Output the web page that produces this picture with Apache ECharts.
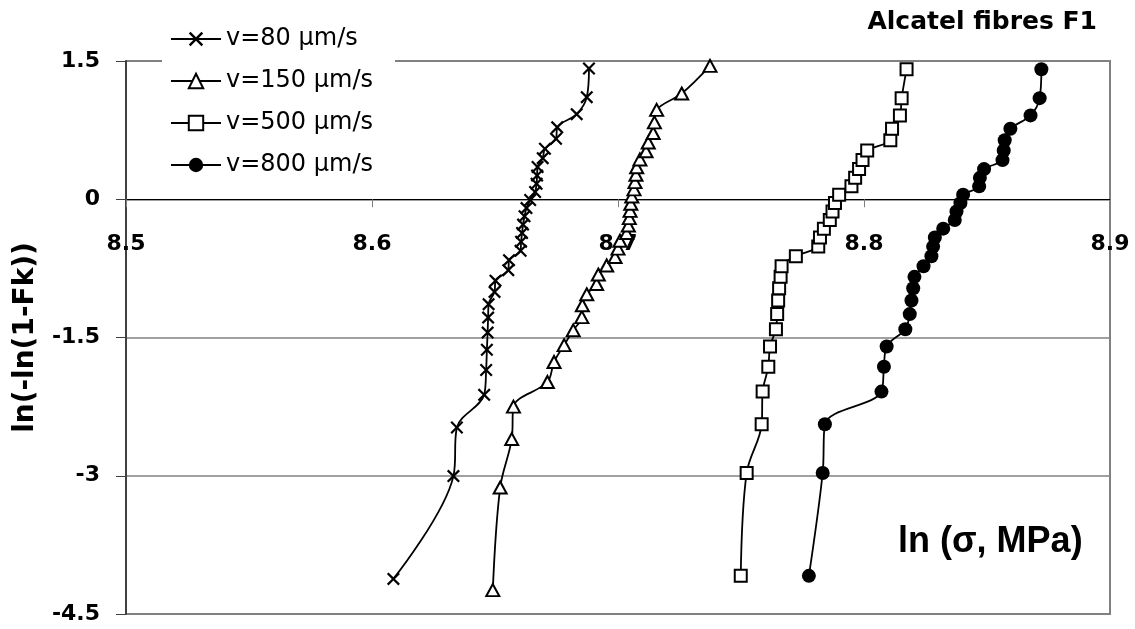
<!DOCTYPE html>
<html>
<head>
<meta charset="utf-8">
<script src="https://cdn.jsdelivr.net/npm/echarts@6/dist/echarts.min.js"></script>
<style>html,body{margin:0;padding:0;background:#fff;}#chart{width:1135px;height:629px;}</style>
</head>
<body>
<div id="chart"></div>
<script>
// ---- data ----
const seriesNames = ['v=80 µm/s', 'v=150 µm/s', 'v=500 µm/s', 'v=800 µm/s'];
const xTicks = ['8.5', '8.6', '8.7', '8.8', '8.9'];
const yTicks = ['-4.5', '-3', '-1.5', '0', '1.5'];

// v=80 µm/s (31 points)
const v80X = [8.6087,8.6331,8.6345,8.6456,8.6464,8.6467,8.6470,8.6472,8.6474,8.6498,8.6502,8.6554,8.6557,8.6604,8.6606,8.6610,8.6614,8.6620,8.6628,8.6643,8.6663,8.6669,8.6671,8.6673,8.6694,8.6703,8.6748,8.6753,8.6832,8.6873,8.6882];
const v80Y = [-4.119,-3.004,-2.476,-2.122,-1.852,-1.633,-1.447,-1.284,-1.138,-1.005,-0.883,-0.769,-0.661,-0.559,-0.461,-0.366,-0.275,-0.185,-0.096,-0.008,0.079,0.168,0.258,0.350,0.446,0.548,0.657,0.780,0.923,1.108,1.418];

// v=150 µm/s (35 points)
const v150X = [8.6491,8.6521,8.6568,8.6575,8.6713,8.6740,8.6781,8.6818,8.6853,8.6855,8.6873,8.6913,8.6920,8.6954,8.6988,8.7000,8.7008,8.7035,8.7042,8.7046,8.7049,8.7052,8.7056,8.7065,8.7069,8.7073,8.7076,8.7089,8.7114,8.7123,8.7143,8.7148,8.7157,8.7259,8.7374];
const v150Y = [-4.241,-3.128,-2.602,-2.250,-1.983,-1.766,-1.583,-1.422,-1.279,-1.150,-1.031,-0.920,-0.817,-0.719,-0.626,-0.536,-0.450,-0.367,-0.285,-0.205,-0.126,-0.049,0.029,0.107,0.186,0.266,0.347,0.432,0.521,0.616,0.719,0.834,0.970,1.147,1.447];

// v=500 µm/s (30 points)
const v500X = [8.7499,8.7523,8.7584,8.7588,8.7611,8.7618,8.7642,8.7647,8.7651,8.7655,8.7661,8.7665,8.7723,8.7814,8.7821,8.7837,8.7861,8.7872,8.7882,8.7899,8.7949,8.7964,8.7980,8.7994,8.8013,8.8107,8.8114,8.8146,8.8153,8.8173];
const v500Y = [-4.086,-2.970,-2.442,-2.087,-1.817,-1.597,-1.410,-1.246,-1.099,-0.966,-0.842,-0.727,-0.618,-0.514,-0.415,-0.319,-0.225,-0.133,-0.042,0.049,0.140,0.232,0.327,0.425,0.529,0.640,0.765,0.910,1.097,1.410];

// v=800 µm/s (30 points)
const v800X = [8.7776,8.7832,8.7841,8.8071,8.8081,8.8092,8.8168,8.8186,8.8193,8.8200,8.8205,8.8242,8.8274,8.8281,8.8288,8.8322,8.8369,8.8376,8.8392,8.8403,8.8468,8.8471,8.8488,8.8563,8.8568,8.8572,8.8595,8.8677,8.8714,8.8721];
const v800Y = [-4.086,-2.970,-2.442,-2.087,-1.817,-1.597,-1.410,-1.246,-1.099,-0.966,-0.842,-0.727,-0.618,-0.514,-0.415,-0.319,-0.225,-0.133,-0.042,0.049,0.140,0.232,0.327,0.425,0.529,0.640,0.765,0.910,1.097,1.410];

// ---- build chart ----
function zip(xs, ys) { return xs.map((x, i) => [x, ys[i]]); }

const crossPath = 'path://M0,1.2L1.2,0L5,3.8L8.8,0L10,1.2L6.2,5L10,8.8L8.8,10L5,6.2L1.2,10L0,8.8L3.8,5Z';
const lineStyle = { color: '#000', width: 1.8 };
const LABEL_FONT = "'DejaVu Sans', sans-serif";

const Y_MIN = -4.5, Y_MAX = 1.5;
const GRID = { left: 126, right: 25, top: 61, bottom: 15 };
const plotHeight = 629 - GRID.top - GRID.bottom;
// move the x axis (line, ticks, labels) from the bottom of the grid up to y = 0
const xAxisOffset = -plotHeight * (0 - Y_MIN) / (Y_MAX - Y_MIN);

const chart = echarts.init(document.getElementById('chart'), null, { renderer: 'canvas' });
chart.setOption({
  animation: false,
  backgroundColor: '#fff',
  title: [
    { text: 'Alcatel fibres F1', right: 38, top: 10, padding: 0,
      textStyle: { fontFamily: LABEL_FONT, fontWeight: 'bold', fontSize: 25, color: '#000' } },
    { text: 'ln (σ, MPa)', left: 898, top: 524, padding: 0,
      textStyle: { fontFamily: "'Liberation Sans', Arial, sans-serif", fontWeight: 'bold', fontSize: 36, color: '#000' } }
  ],
  legend: {
    orient: 'vertical', left: 162, top: 19,
    padding: [8, 22, 8, 8],
    backgroundColor: '#fff',
    itemWidth: 50, itemHeight: 18, itemGap: 18,
    textStyle: { fontFamily: LABEL_FONT, fontSize: 24, color: '#000' },
    data: seriesNames
  },
  grid: Object.assign({ show: true, borderColor: '#808080', borderWidth: 2, backgroundColor: 'transparent',
    containLabel: false, outerBoundsMode: 'none' }, GRID),
  xAxis: {
    type: 'value', min: 8.5, max: 8.9, interval: 0.1,
    offset: xAxisOffset,
    axisLine: { onZero: false, lineStyle: { color: '#000', width: 1 } },
    axisTick: { show: true, length: 8, lineStyle: { color: '#808080' } },
    axisLabel: {
      margin: 34, color: '#000', fontFamily: LABEL_FONT, fontWeight: 'bold', fontSize: 22,
      formatter: v => { const s = v.toFixed(1); return xTicks.includes(s) ? s : ''; }
    },
    splitLine: { show: false }
  },
  yAxis: {
    type: 'value', min: Y_MIN, max: Y_MAX, interval: 1.5,
    name: 'ln(-ln(1-Fk))', nameLocation: 'middle', nameRotate: 90, nameGap: 86,
    nameTextStyle: { fontFamily: LABEL_FONT, fontWeight: 'bold', fontSize: 28, color: '#000' },
    axisLine: { show: true, lineStyle: { color: '#404040', width: 2 } },
    axisTick: { show: true, length: 10, lineStyle: { color: '#404040' } },
    axisLabel: {
      margin: 26, color: '#000', fontFamily: LABEL_FONT, fontWeight: 'bold', fontSize: 22,
      formatter: v => { const s = String(Math.round(v * 10) / 10); return yTicks.includes(s) ? s : ''; }
    },
    splitLine: { show: true, lineStyle: { color: '#808080', width: 1.5 } }
  },
  series: [
    { name: seriesNames[0], type: 'line', smooth: 0.35, data: zip(v80X, v80Y),
      symbol: crossPath, symbolSize: 13, itemStyle: { color: '#000', borderWidth: 0 }, lineStyle },
    { name: seriesNames[1], type: 'line', smooth: 0.35, data: zip(v150X, v150Y),
      symbol: 'triangle', symbolSize: [13, 12], itemStyle: { color: '#fff', borderColor: '#000', borderWidth: 2 }, lineStyle },
    { name: seriesNames[2], type: 'line', smooth: 0.35, data: zip(v500X, v500Y),
      symbol: 'rect', symbolSize: 12, itemStyle: { color: '#fff', borderColor: '#000', borderWidth: 2 }, lineStyle },
    { name: seriesNames[3], type: 'line', smooth: 0.35, data: zip(v800X, v800Y),
      symbol: 'circle', symbolSize: 14, itemStyle: { color: '#000' }, lineStyle }
  ].map(s => Object.assign(s, { emphasis: { disabled: true }, z: 3 }))
});
</script>
</body>
</html>
